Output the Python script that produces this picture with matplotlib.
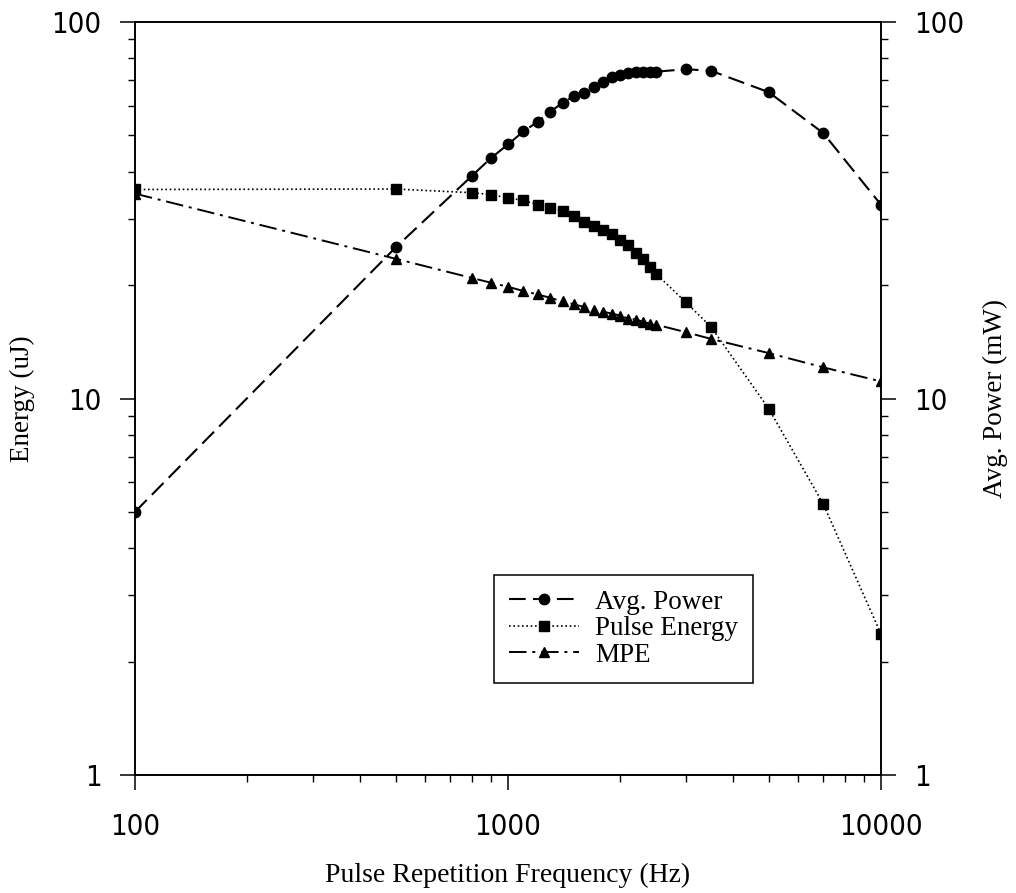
import matplotlib.pyplot as plt
from matplotlib.ticker import LogLocator, NullFormatter, FixedLocator, FixedFormatter

# values (x in Hz)
freq = [100, 500, 800, 900, 1000, 1100, 1200, 1300, 1400, 1500, 1600, 1700, 1800,
        1900, 2000, 2100, 2200, 2300, 2400, 2500, 3000, 3500, 5000, 7000, 10000]
avg_power = [5.0, 25.2, 39.0, 43.5, 47.3, 51.2, 54.3, 57.8, 61.0, 63.4, 64.9, 67.3, 69.4,
             71.3, 72.4, 73.3, 73.6, 73.8, 73.8, 73.8, 74.9, 74.2, 65.1, 50.7, 32.7]
pulse_energy = [35.9, 36.0, 35.2, 34.8, 34.1, 33.6, 32.7, 32.0, 31.5, 30.6, 29.4, 28.8, 28.1,
                27.3, 26.4, 25.5, 24.4, 23.5, 22.4, 21.4, 18.0, 15.5, 9.4, 5.25, 2.37]
mpe = [35.0, 23.5, 20.9, 20.3, 19.8, 19.3, 18.9, 18.5, 18.1, 17.8, 17.5, 17.2, 17.0,
       16.8, 16.6, 16.3, 16.2, 16.0, 15.8, 15.7, 15.0, 14.4, 13.2, 12.1, 11.1]

tick_vals = [1, 10, 100]
xtick_vals = [100, 1000, 10000]

num_font = 'DejaVu Sans'
txt_font = 'Liberation Serif'


def style_ticks(lab_list):
    for lab in lab_list:
        lab.set_fontfamily(num_font)
        lab.set_fontstretch('condensed')


fig = plt.figure(figsize=(10.16, 8.93), dpi=100)
ax = fig.add_axes([0.1329, 0.1321, 0.7342, 0.8433])
ax2 = ax.twinx()
ax.set_zorder(ax2.get_zorder() + 1)
ax.patch.set_visible(False)

ax.plot(freq, avg_power, color='black', lw=1.5, ls=(0, (8, 3.5)),
        marker='o', ms=7.5, label='Avg. Power')
ax.plot(freq, pulse_energy, color='black', lw=1.2, ls=(0, (1, 1.6)),
        marker='s', ms=6.5, label='Pulse Energy')
ax.plot(freq, mpe, color='black', lw=1.4, ls=(0, (9, 3, 1.5, 3)),
        marker='^', ms=7, label='MPE')

ax.set_xscale('log')
ax.set_yscale('log')
ax.set_xlim(100, 10000)
ax.set_ylim(1, 100)

ax.xaxis.set_major_locator(FixedLocator(xtick_vals))
ax.xaxis.set_major_formatter(FixedFormatter([str(v) for v in xtick_vals]))
ax.xaxis.set_minor_locator(LogLocator(base=10, subs=range(2, 10)))
ax.xaxis.set_minor_formatter(NullFormatter())
ax.yaxis.set_major_locator(FixedLocator(tick_vals))
ax.yaxis.set_major_formatter(FixedFormatter([str(v) for v in tick_vals]))
ax.yaxis.set_minor_locator(LogLocator(base=10, subs=range(2, 10)))
ax.yaxis.set_minor_formatter(NullFormatter())

ax.tick_params(which='major', direction='out', length=11, width=1.1, labelsize=21,
               top=False, right=False)
ax.tick_params(which='minor', direction='out', length=5, width=1.0, top=False, right=False)
ax.tick_params(axis='x', which='major', pad=16)
ax.tick_params(axis='y', which='major', pad=13)
style_ticks(ax.get_xticklabels() + ax.get_yticklabels())

ax2.set_yscale('log')
ax2.set_ylim(1, 100)
ax2.yaxis.set_major_locator(FixedLocator(tick_vals))
ax2.yaxis.set_major_formatter(FixedFormatter([str(v) for v in tick_vals]))
ax2.yaxis.set_minor_locator(LogLocator(base=10, subs=range(2, 10)))
ax2.yaxis.set_minor_formatter(NullFormatter())
ax2.tick_params(which='major', direction='out', length=11, width=1.1, labelsize=21, pad=13)
ax2.tick_params(which='minor', direction='out', length=5, width=1.0)
style_ticks(ax2.get_yticklabels())

for a in [ax, ax2]:
    for s in a.spines.values():
        s.set_linewidth(1.2)

ax.set_xlabel('Pulse Repetition Frequency (Hz)', fontsize=20, family=txt_font, labelpad=16)
ax.set_ylabel('Energy (uJ)', fontsize=19.5, family=txt_font, labelpad=12)
ax2.set_ylabel('Avg. Power (mW)', fontsize=19.5, family=txt_font, labelpad=13)

leg = ax.legend(loc='upper left', bbox_to_anchor=(0.481, 0.2656), frameon=True,
                fancybox=False, edgecolor='black', framealpha=1, handlelength=2.6,
                handletextpad=0.6, borderpad=0.55, labelspacing=0.05, borderaxespad=0,
                prop={'family': txt_font, 'size': 19.5})
leg.get_frame().set_linewidth(1.1)

fig.savefig('out.png', dpi=100)
